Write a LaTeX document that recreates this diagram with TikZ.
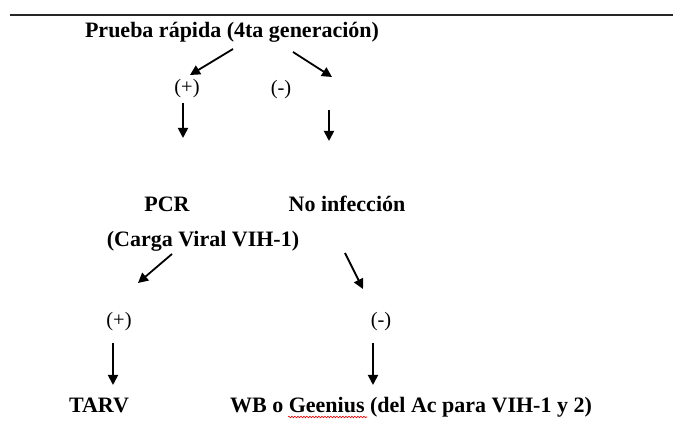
\documentclass[tikz,border=0pt]{standalone}
\usepackage{fontspec}
\setmainfont{Liberation Serif}
\usetikzlibrary{arrows.meta,decorations.pathmorphing}
\begin{document}
\begin{tikzpicture}[x=1pt,y=-1pt,
  lbl/.style={font=\fontsize{22}{24}\selectfont\bfseries, inner sep=0pt, anchor=base},
  sgn/.style={font=\fontsize{20.5}{24}\selectfont, inner sep=0pt},
  arr/.style={line width=1.8pt, -{Triangle[length=10pt,width=10pt]}},
  rule/.style={line width=2.6pt, black!85}]
\useasboundingbox (0,0) rectangle (673,422);
\fill[white] (0,0) rectangle (673,422);
% top rule
\coordinate (rl) at (10,15);
\coordinate (rr) at (673,15);
\draw[rule] (rl) -- (rr);
% texts
\node[lbl] (prueba) at (232,38) {Prueba rápida (4ta generación)};
\node[sgn] (pos1) at (187,89) {(+)};
\node[sgn] (neg1) at (281,90) {(-)};
\node[lbl] (pcr) at (167,212) {PCR};
\node[lbl] (carga) at (203,247) {(Carga Viral VIH-1)};
\node[lbl] (noinf) at (347,212) {No infección};
\node[sgn] (pos2) at (119,322) {(+)};
\node[sgn] (neg2) at (381,322) {(-)};
\node[lbl] (tarv) at (99,413) {TARV};
\node[lbl] (wb) at (411,413) {WB o Geenius (del Ac para VIH-1 y 2)};
% arrow end points
\coordinate (a1s) at (233,49);  \coordinate (a1e) at (190,75);
\coordinate (a2s) at (293,52);  \coordinate (a2e) at (332,77);
\coordinate (a3s) at (183,103); \coordinate (a3e) at (183,138);
\coordinate (a4s) at (329,110); \coordinate (a4e) at (329,141);
\coordinate (a5s) at (172,254); \coordinate (a5e) at (138,283);
\coordinate (a6s) at (345,253); \coordinate (a6e) at (363,289);
\coordinate (a7s) at (113,343); \coordinate (a7e) at (113,385);
\coordinate (a8s) at (373,343); \coordinate (a8e) at (373,385);
\draw[arr] (a1s) -- (a1e);
\draw[arr] (a2s) -- (a2e);
\draw[arr] (a3s) -- (a3e);
\draw[arr] (a4s) -- (a4e);
\draw[arr] (a5s) -- (a5e);
\draw[arr] (a6s) -- (a6e);
\draw[arr] (a7s) -- (a7e);
\draw[arr] (a8s) -- (a8e);
% spell-check squiggle under Geenius
\coordinate (sq1) at (288,417);
\coordinate (sq2) at (367,417);
\draw[red, line width=0.6pt, decorate, decoration={snake, amplitude=0.8pt, segment length=3pt}] (sq1) -- (sq2);
\end{tikzpicture}
\end{document}
